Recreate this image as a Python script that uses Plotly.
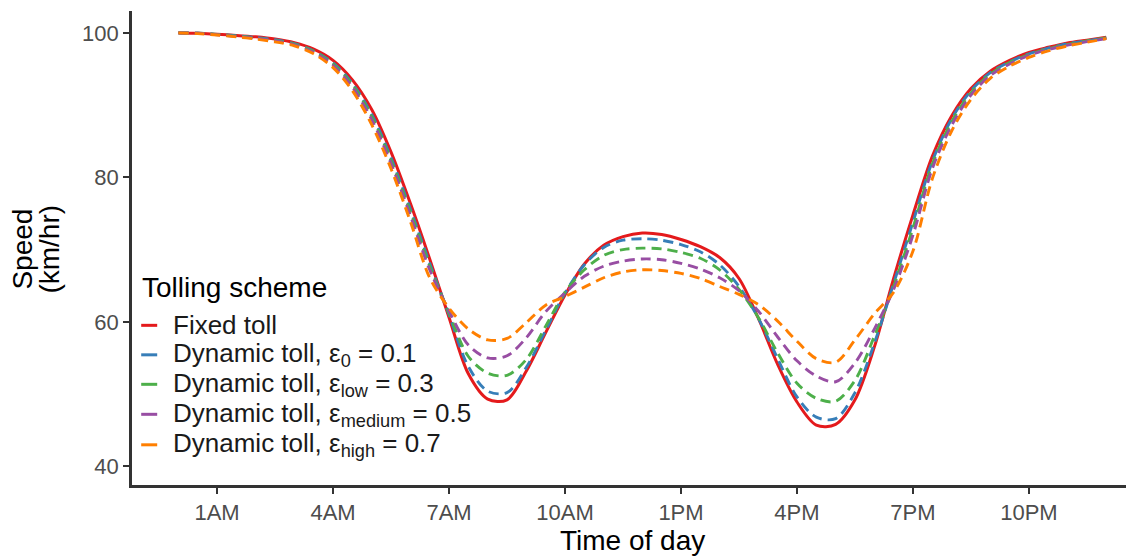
import plotly.graph_objects as go

# Hour of day (0 = midnight), half-hour steps
hours = [0, 0.5, 1, 1.5, 2, 2.5, 3, 3.5, 4, 4.5, 5, 5.5, 6, 6.5, 7, 7.5, 8, 8.5,
         9, 9.5, 10, 10.5, 11, 11.5, 12, 12.5, 13, 13.5, 14, 14.5, 15, 15.5,
         16, 16.5, 17, 17.5, 18, 18.5, 19, 19.5, 20, 20.5, 21, 21.5, 22, 22.5,
         23, 23.5, 24]

# Average speed (km/hr) under each tolling scheme
fixed_toll = [100.0, 99.95, 99.8, 99.65, 99.45, 99.15, 98.65, 97.75, 96.2, 93.5,
              89.4, 83.5, 76.4, 68.7, 60.6, 52.8, 49.3, 49.2, 53.2, 58.5,
              63.7, 68.0, 70.6, 71.8, 72.3, 72.1, 71.4, 70.4, 68.9, 66.0,
              60.5, 54.1, 48.9, 45.7, 45.8, 49.2, 56.5, 66.0, 74.8, 82.9,
              88.5, 92.3, 94.7, 96.2, 97.3, 98.0, 98.6, 99.0, 99.4]
dyn_eps0 = [100.0, 99.95, 99.8, 99.6, 99.35, 99.05, 98.5, 97.5, 95.85, 93.0,
            88.7, 82.7, 75.6, 68.1, 61.0, 53.8, 50.4, 50.2, 53.7, 58.8,
            64.0, 67.9, 70.3, 71.3, 71.5, 71.3, 70.7, 69.7, 67.9, 64.9,
            60.5, 54.9, 49.6, 46.8, 46.6, 50.2, 57.0, 65.3, 73.8, 82.2,
            88.1, 92.0, 94.5, 96.0, 97.1, 97.9, 98.5, 98.9, 99.3]
dyn_low = [100.0, 99.95, 99.8, 99.55, 99.3, 98.95, 98.45, 97.45, 95.7, 92.8,
           88.4, 82.3, 75.2, 67.7, 61.2, 55.2, 52.9, 52.6, 54.8, 59.4,
           64.1, 67.2, 69.2, 70.0, 70.2, 70.1, 69.6, 68.8, 67.2, 64.5,
           60.6, 55.7, 51.5, 49.4, 49.0, 51.9, 58.0, 64.9, 73.0, 81.8,
           87.7, 91.7, 94.3, 95.9, 97.0, 97.8, 98.4, 98.9, 99.3]
dyn_medium = [100.0, 99.95, 99.75, 99.5, 99.25, 98.9, 98.35, 97.3, 95.5, 92.5,
              88.0, 81.9, 74.7, 67.2, 61.5, 56.8, 55.0, 55.3, 57.8, 61.4,
              64.0, 66.3, 67.7, 68.4, 68.7, 68.6, 68.1, 67.3, 66.1, 64.3,
              61.5, 57.9, 54.6, 52.5, 51.7, 54.3, 59.0, 64.5, 72.0, 81.2,
              87.2, 91.4, 94.1, 95.7, 96.9, 97.7, 98.3, 98.8, 99.2]
dyn_high = [100.0, 99.9, 99.7, 99.45, 99.15, 98.75, 98.2, 97.1, 95.2, 92.0,
            87.3, 81.2, 73.9, 66.1, 61.9, 59.0, 57.5, 57.7, 59.9, 62.3,
            63.5, 64.8, 66.1, 66.9, 67.2, 67.1, 66.7, 66.0, 64.9, 63.8,
            62.4, 60.1, 57.3, 54.9, 54.4, 57.5, 61.1, 64.1, 69.8, 79.8,
            86.4, 90.8, 93.7, 95.4, 96.6, 97.5, 98.2, 98.7, 99.2]

series_names = [
    "Fixed toll",
    "Dynamic toll, ε<sub>0</sub> = 0.1",
    "Dynamic toll, ε<sub>low</sub> = 0.3",
    "Dynamic toll, ε<sub>medium</sub> = 0.5",
    "Dynamic toll, ε<sub>high</sub> = 0.7",
]
series_values = [fixed_toll, dyn_eps0, dyn_low, dyn_medium, dyn_high]
series_colors = ["#E41A1C", "#377EB8", "#4DAF4A", "#984EA3", "#FF7F00"]
series_dash = ["solid", "10px,6px", "10px,6px", "10px,6px", "10px,6px"]
series_width = [3.0, 2.9, 2.9, 2.9, 2.9]

tick_hours = [1, 4, 7, 10, 13, 16, 19, 22]
tick_labels = ["1AM", "4AM", "7AM", "10AM", "1PM", "4PM", "7PM", "10PM"]
speed_ticks = [40, 60, 80, 100]

FONT = "Liberation Sans, Arial, sans-serif"
W, H = 1126, 556
ML, MR, MT, MB = 131.8, 0, 10.6, 71.3
PW, PH = W - ML - MR, H - MT - MB


def px_x(px):
    return (px - ML) / PW


def px_y(py):
    return (H - MB - py) / PH


fig = go.Figure()
for name, vals, col, dash, lw in zip(series_names, series_values, series_colors,
                                     series_dash, series_width):
    fig.add_trace(go.Scatter(
        x=hours, y=vals, name=name, mode="lines",
        line=dict(color=col, dash=dash, width=lw, shape="spline", smoothing=0.9),
        showlegend=False,
    ))

axis_common = dict(
    showline=True, linecolor="#333333", linewidth=2.7,
    ticks="outside", ticklen=6, tickwidth=2.4, tickcolor="#333333",
    tickfont=dict(family=FONT, size=22, color="#4D4D4D"),
    showgrid=False, zeroline=False,
)

fig.update_layout(
    width=W, height=H,
    margin=dict(l=ML, r=MR, t=MT, b=MB, pad=0),
    paper_bgcolor="white", plot_bgcolor="white",
    font=dict(family=FONT),
    xaxis=dict(range=[-1.2, 24.51], tickmode="array", tickvals=tick_hours,
               ticktext=tick_labels, **axis_common),
    yaxis=dict(range=[37.41, 103.03], tickmode="array", tickvals=speed_ticks,
               **axis_common),
)

annotations = []
# axis titles
annotations.append(dict(text="Time of day", x=px_x(632), y=px_y(540),
                        xref="paper", yref="paper", showarrow=False,
                        xanchor="center", yanchor="middle",
                        font=dict(family=FONT, size=28, color="black")))
annotations.append(dict(text="Speed", x=px_x(22), y=px_y(249),
                        xref="paper", yref="paper", showarrow=False,
                        xanchor="center", yanchor="middle", textangle=-90,
                        font=dict(family=FONT, size=28, color="black")))
annotations.append(dict(text="(km/hr)", x=px_x(49), y=px_y(249),
                        xref="paper", yref="paper", showarrow=False,
                        xanchor="center", yanchor="middle", textangle=-90,
                        font=dict(family=FONT, size=28, color="black")))

# legend
annotations.append(dict(text="Tolling scheme", x=px_x(140), y=px_y(287),
                        xref="paper", yref="paper", showarrow=False,
                        xanchor="left", yanchor="middle",
                        font=dict(family=FONT, size=28, color="black")))
key_rows = [325, 354.5, 384, 414, 444.5]
shapes = []
for name, col, ky in zip(series_names, series_colors, key_rows):
    shapes.append(dict(type="line", xref="paper", yref="paper",
                       x0=px_x(141), x1=px_x(157), y0=px_y(ky), y1=px_y(ky),
                       line=dict(color=col, width=3)))
    annotations.append(dict(text=name, x=px_x(171), y=px_y(ky),
                            xref="paper", yref="paper", showarrow=False,
                            xanchor="left", yanchor="middle",
                            font=dict(family=FONT, size=26, color="#1A1A1A")))

fig.update_layout(annotations=annotations, shapes=shapes)
fig.write_html("out.html")
